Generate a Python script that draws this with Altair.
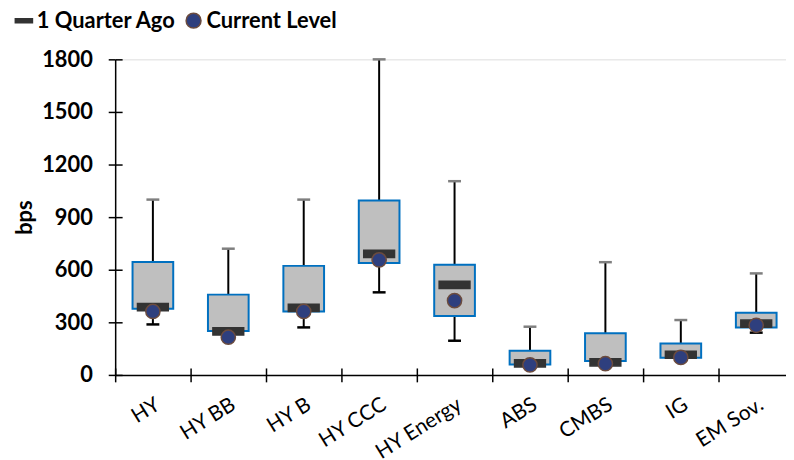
import altair as alt
import pandas as pd

cats = ["HY", "HY BB", "HY B", "HY CCC", "HY Energy", "ABS", "CMBS", "IG", "EM Sov."]
low = [288, 215, 271, 471, 195, 57, 64, 98, 241]
q1 = [377, 251, 362, 639, 336, 60, 79, 98, 271]
q3 = [644, 458, 622, 995, 628, 138, 237, 179, 354]
high = [1000, 720, 1000, 1800, 1105, 275, 643, 313, 579]
quarter_ago = [387, 248, 383, 690, 513, 66, 72, 115, 292]
current = [362, 215, 362, 656, 424, 57, 64, 100, 283]

series_names = ["1 Quarter Ago", "Current Level"]

box_df = pd.DataFrame({"cat": cats, "low": low, "q1": q1, "q3": q3, "high": high})
qa_df = pd.DataFrame({"cat": cats, "series": series_names[0], "value": quarter_ago})
cur_df = pd.DataFrame({"cat": cats, "series": series_names[1], "value": current})

FONT = "Lato"
yvals = [0, 300, 600, 900, 1200, 1500, 1800]

xscale = alt.Scale(type="band", domain=cats, range=[0, 684], paddingInner=0, paddingOuter=0)
yscale = alt.Scale(domain=[0, 1800], nice=False, zero=True)

x_main = alt.Axis(orient="bottom", title=None, labelAngle=328, labelAlign="right",
                  labelBaseline="middle", labelPadding=21, labelOffset=5, labelFont=FONT,
                  labelFontSize=21, labelColor="black", tickBand="extent", tickSize=7,
                  tickColor="black", tickWidth=1.5, domainColor="black", domainWidth=1.5,
                  grid=False, labelOverlap=False)
y_main = alt.Axis(orient="left", values=yvals, format="d", title="bps", titleFont=FONT,
                  titleFontSize=22, titleFontWeight="bold", titleColor="black", titleAngle=270,
                  titleX=-91, titleY=159, titleAlign="center", titleBaseline="middle",
                  labelFont=FONT, labelFontSize=22, labelFontWeight="bold", labelColor="black",
                  labelPadding=16, tickSize=7, tickColor="black", tickWidth=1.5,
                  domainColor="black", domainWidth=1.5, grid=False)
x_sec = alt.Axis(orient="bottom", title=None, labels=False, domain=False, tickSize=7,
                 offset=-7, tickBand="extent", tickColor="black", tickWidth=1.5, grid=False)
y_sec = alt.Axis(orient="left", title=None, labels=False, domain=False, values=yvals,
                 tickSize=7, offset=-7, tickColor="black", tickWidth=1.5, grid=False)

base = alt.Chart(box_df)

whisker = base.mark_rule(color="black", strokeWidth=2).encode(
    x=alt.X("cat:N", scale=xscale, axis=x_main, sort=cats),
    y=alt.Y("low:Q", scale=yscale, axis=y_main),
    y2="high:Q",
)
cap_top = base.mark_tick(color="#7F7F7F", size=13, thickness=2.5, opacity=1).encode(
    x=alt.X("cat:N", scale=xscale, axis=None, sort=cats),
    y=alt.Y("high:Q", scale=yscale, axis=None),
)
cap_low = base.mark_tick(color="black", size=13, thickness=2.5, opacity=1).encode(
    x=alt.X("cat:N", scale=xscale, axis=None, sort=cats),
    y=alt.Y("low:Q", scale=yscale, axis=None),
)
box = base.mark_bar(width=41, fill="#BFBFBF", stroke="#0070C0", strokeWidth=2).encode(
    x=alt.X("cat:N", scale=xscale, axis=x_sec, sort=cats),
    y=alt.Y("q1:Q", scale=yscale, axis=y_sec),
    y2="q3:Q",
)

dash_path = "M-1.15,-0.27H1.15V0.27H-1.15Z"
fill_enc = alt.Fill("series:N", scale=alt.Scale(domain=series_names, range=["#333333", "#2E3F7E"]),
                    title=None)
stroke_enc = alt.Stroke("series:N", scale=alt.Scale(domain=series_names, range=["#333333", "#6B4B3E"]),
                        title=None)
shape_enc = alt.Shape("series:N", scale=alt.Scale(domain=series_names, range=[dash_path, "circle"]),
                      title=None)


def point_layer(df, size):
    return alt.Chart(df).mark_point(filled=True, opacity=1, strokeWidth=1.5, size=size).encode(
        x=alt.X("cat:N", scale=xscale, axis=None, sort=cats),
        y=alt.Y("value:Q", scale=yscale, axis=None),
        fill=fill_enc, stroke=stroke_enc, shape=shape_enc,
    )


qa_pts = point_layer(qa_df, 729)
cur_pts = point_layer(cur_df, 205)

chart = alt.layer(whisker, cap_top, cap_low, box, qa_pts, cur_pts).resolve_axis(
    x="independent", y="independent"
).properties(
    width=676, height=318,
    autosize=alt.AutoSizeParams(type="none"),
    padding={"left": 108, "top": 50, "right": 0, "bottom": 84},
).configure_view(stroke=None).configure(font=FONT).configure_legend(
    orient="none", legendX=-103, legendY=-50, direction="horizontal",
    labelFont=FONT, labelFontSize=22, labelFontWeight="bold", labelColor="black",
    labelLimit=0, symbolSize=225, symbolStrokeWidth=1.5, columnPadding=6, labelOffset=2,
)

chart.save("out.html", embed_options={"renderer": "svg", "actions": False})
